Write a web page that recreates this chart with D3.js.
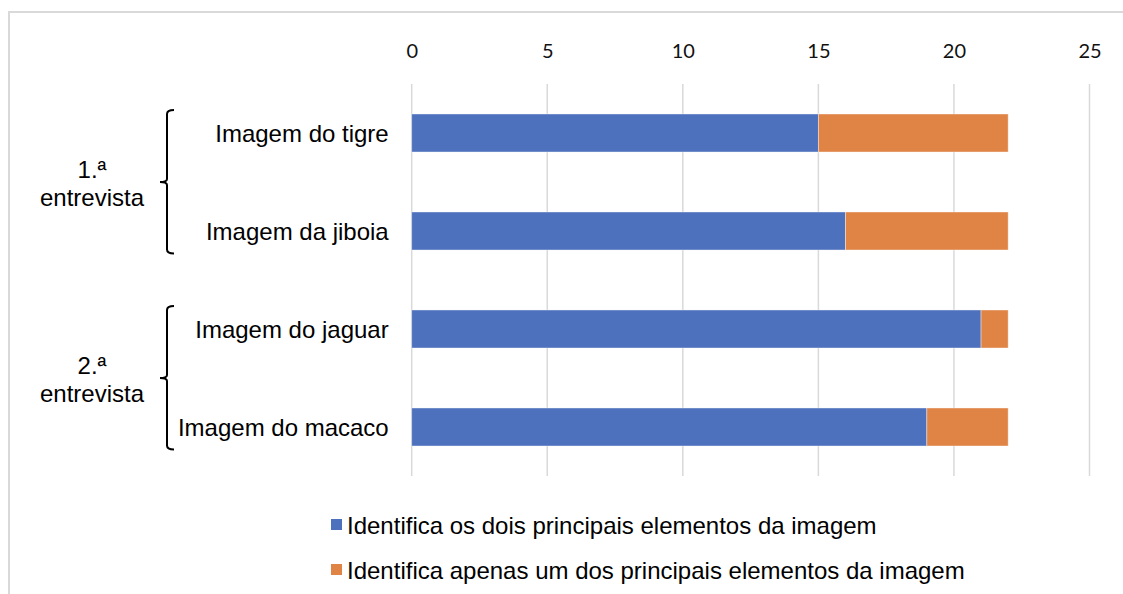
<!DOCTYPE html>
<html>
<head>
<meta charset="utf-8">
<script src="https://cdn.jsdelivr.net/npm/d3@7"></script>
<style>
  html, body { margin: 0; padding: 0; background: #fff; }
  svg { display: block; }
</style>
</head>
<body>
<svg id="chart" width="1123" height="594"></svg>
<script>
// ---- Data ----
const categories = ["Imagem do tigre", "Imagem da jiboia", "Imagem do jaguar", "Imagem do macaco"];
const seriesNames = [
  "Identifica os dois principais elementos da imagem",
  "Identifica apenas um dos principais elementos da imagem"
];
const valuesBoth = [15, 16, 21, 19];
const valuesOne = [7, 6, 1, 3];
const tickValues = [0, 5, 10, 15, 20, 25];
const groupNames = ["1.ª", "2.ª"];
const groupSub = "entrevista";
const groupMembers = [["Imagem do tigre", "Imagem da jiboia"], ["Imagem do jaguar", "Imagem do macaco"]];
const colors = ["#4E71BE", "#E08446"];

// ---- Layout ----
const svg = d3.select("#chart");
const x = d3.scaleLinear().domain([0, 25]).range([411.7, 1089.5]);
const y = d3.scaleBand().domain(categories).range([84, 476]).paddingInner(0.612).paddingOuter(0.306);

// frame
svg.append("path")
  .attr("d", "M9,600 V12 H1130")
  .attr("fill", "none").attr("stroke", "#d9d9d9").attr("stroke-width", 2);

// gridlines
svg.append("g").selectAll("line").data(tickValues).join("line")
  .attr("x1", d => x(d)).attr("x2", d => x(d))
  .attr("y1", 84).attr("y2", 476)
  .attr("stroke", "#d9d9d9").attr("stroke-width", 1.5);

// top axis labels
const axis = d3.axisTop(x).tickValues(tickValues).tickSize(0).tickPadding(0);
const ax = svg.append("g").attr("transform", "translate(0,58)").call(axis);
ax.select(".domain").remove();
ax.selectAll("text")
  .attr("font-family", "Lato, 'Open Sans', sans-serif")
  .attr("font-size", 20).attr("fill", "#111").attr("dy", 0);

// stacked bars
const stackData = categories.map((c, i) => ({cat: c, s0: valuesBoth[i], s1: valuesOne[i]}));
const stacked = d3.stack().keys(["s0", "s1"])(stackData);
svg.append("g").selectAll("g").data(stacked).join("g")
  .attr("fill", (d, i) => colors[i])
  .selectAll("rect").data(d => d).join("rect")
  .attr("x", d => x(d[0]))
  .attr("width", d => x(d[1]) - x(d[0]))
  .attr("y", d => y(d.data.cat))
  .attr("height", y.bandwidth())
  .attr("stroke", "rgba(255,255,255,0.5)").attr("stroke-width", 0.8);

// category labels
svg.append("g").selectAll("text").data(categories).join("text")
  .attr("x", x(0) - 23)
  .attr("y", d => y(d) + y.bandwidth() / 2 + 8.5)
  .attr("text-anchor", "end")
  .attr("font-family", "'Liberation Sans', Arial, sans-serif")
  .attr("font-size", 24).attr("fill", "#000")
  .text(d => d);

// group brackets and labels
groupMembers.forEach((mem, gi) => {
  const top = y(mem[0]) - 4;
  const bot = y(mem[mem.length - 1]) + y.bandwidth() + 3.5;
  const mid = (y(mem[0]) + y(mem[mem.length - 1]) + y.bandwidth()) / 2;
  const bx = 167;
  svg.append("path")
    .attr("d", `M${bx + 7},${top} Q${bx},${top} ${bx},${top + 4} V${mid - 3} Q${bx},${mid} ${bx - 7},${mid} Q${bx},${mid} ${bx},${mid + 3} V${bot - 4} Q${bx},${bot} ${bx + 7},${bot}`)
    .attr("fill", "none").attr("stroke", "#000").attr("stroke-width", 2);
  svg.append("text")
    .attr("x", 92).attr("y", mid - 4.5)
    .attr("text-anchor", "middle")
    .attr("font-family", "'Liberation Sans', Arial, sans-serif")
    .attr("font-size", 24).attr("fill", "#000")
    .text(groupNames[gi]);
  svg.append("text")
    .attr("x", 92).attr("y", mid + 23.5)
    .attr("text-anchor", "middle")
    .attr("font-family", "'Liberation Sans', Arial, sans-serif")
    .attr("font-size", 24).attr("fill", "#000")
    .text(groupSub);
});

// legend
const leg = svg.append("g").selectAll("g").data(seriesNames).join("g")
  .attr("transform", (d, i) => `translate(331,${534 + i * 45})`);
leg.append("rect").attr("x", 0).attr("y", -15).attr("width", 11).attr("height", 11)
  .attr("fill", (d, i) => colors[i]);
leg.append("text").attr("x", 16).attr("y", 0)
  .attr("font-family", "'Liberation Sans', Arial, sans-serif")
  .attr("font-size", 24).attr("fill", "#000")
  .text(d => d);
</script>
</body>
</html>
